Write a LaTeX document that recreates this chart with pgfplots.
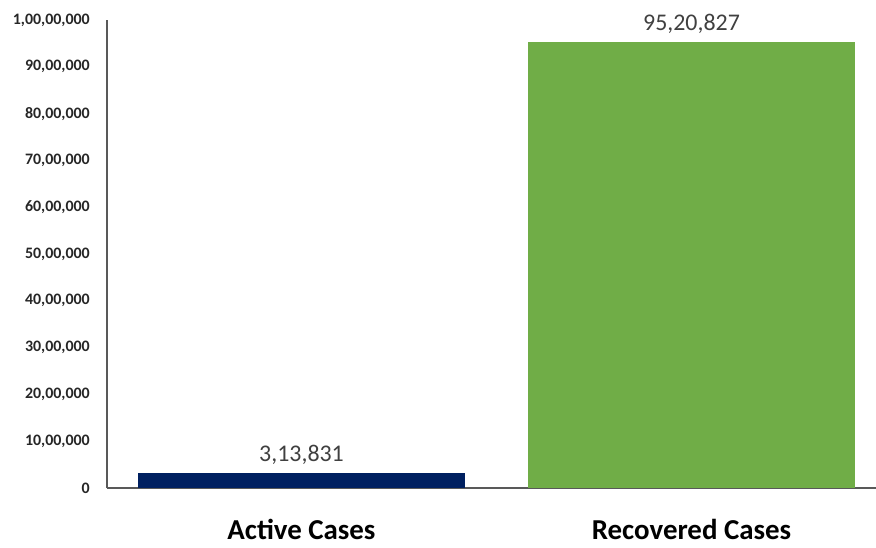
\documentclass[border=0pt]{standalone}
\usepackage{pgfplots}
\pgfplotsset{compat=1.18}
\usepackage{fontspec}
\setmainfont{Carlito}
\definecolor{navybar}{HTML}{002060}
\definecolor{greenbar}{HTML}{70AD47}
\definecolor{axisgrey}{HTML}{595959}
\definecolor{labelgrey}{HTML}{404040}
\definecolor{tickgrey}{HTML}{262626}
\begin{document}
\begin{tikzpicture}
\begin{axis}[
  scale only axis, width=769bp, height=468bp,
  ybar, bar width=327bp, bar shift=0pt,
  xmin=-0.4987, xmax=1.473, ymin=0, ymax=10000000,
  enlargelimits=false, clip=false,
  scaled y ticks=false,
  axis lines*=left,
  axis line style={axisgrey, line width=1.6bp},
  major tick length=0pt,
  xtick={0,1}, xticklabels={Active Cases, Recovered Cases},
  xticklabel style={anchor=base, yshift=-51bp, font=\bfseries\fontsize{29}{29}\selectfont, text=black},
  ytick={0,1000000,2000000,3000000,4000000,5000000,6000000,7000000,8000000,9000000,10000000},
  yticklabels={0,{10,00,000},{20,00,000},{30,00,000},{40,00,000},{50,00,000},{60,00,000},{70,00,000},{80,00,000},{90,00,000},{1,00,00,000}},
  yticklabel style={anchor=east, inner sep=0pt, xshift=-17bp, font=\bfseries\fontsize{16}{16}\selectfont, text=tickgrey},
  point meta=explicit symbolic,
  nodes near coords={\pgfplotspointmeta},
  every node near coord/.append style={anchor=base, inner sep=0pt, yshift=12bp, font=\fontsize{24}{24}\selectfont, text=labelgrey},
]
\addplot[fill=navybar, draw=none] coordinates {(0,313831) [3,13,831]};
\addplot[fill=greenbar, draw=none] coordinates {(1,9520827) [95,20,827]};
\end{axis}
\pgfresetboundingbox
\path[use as bounding box] (-107bp,-60bp) rectangle (769bp,488bp);
\end{tikzpicture}
\end{document}
